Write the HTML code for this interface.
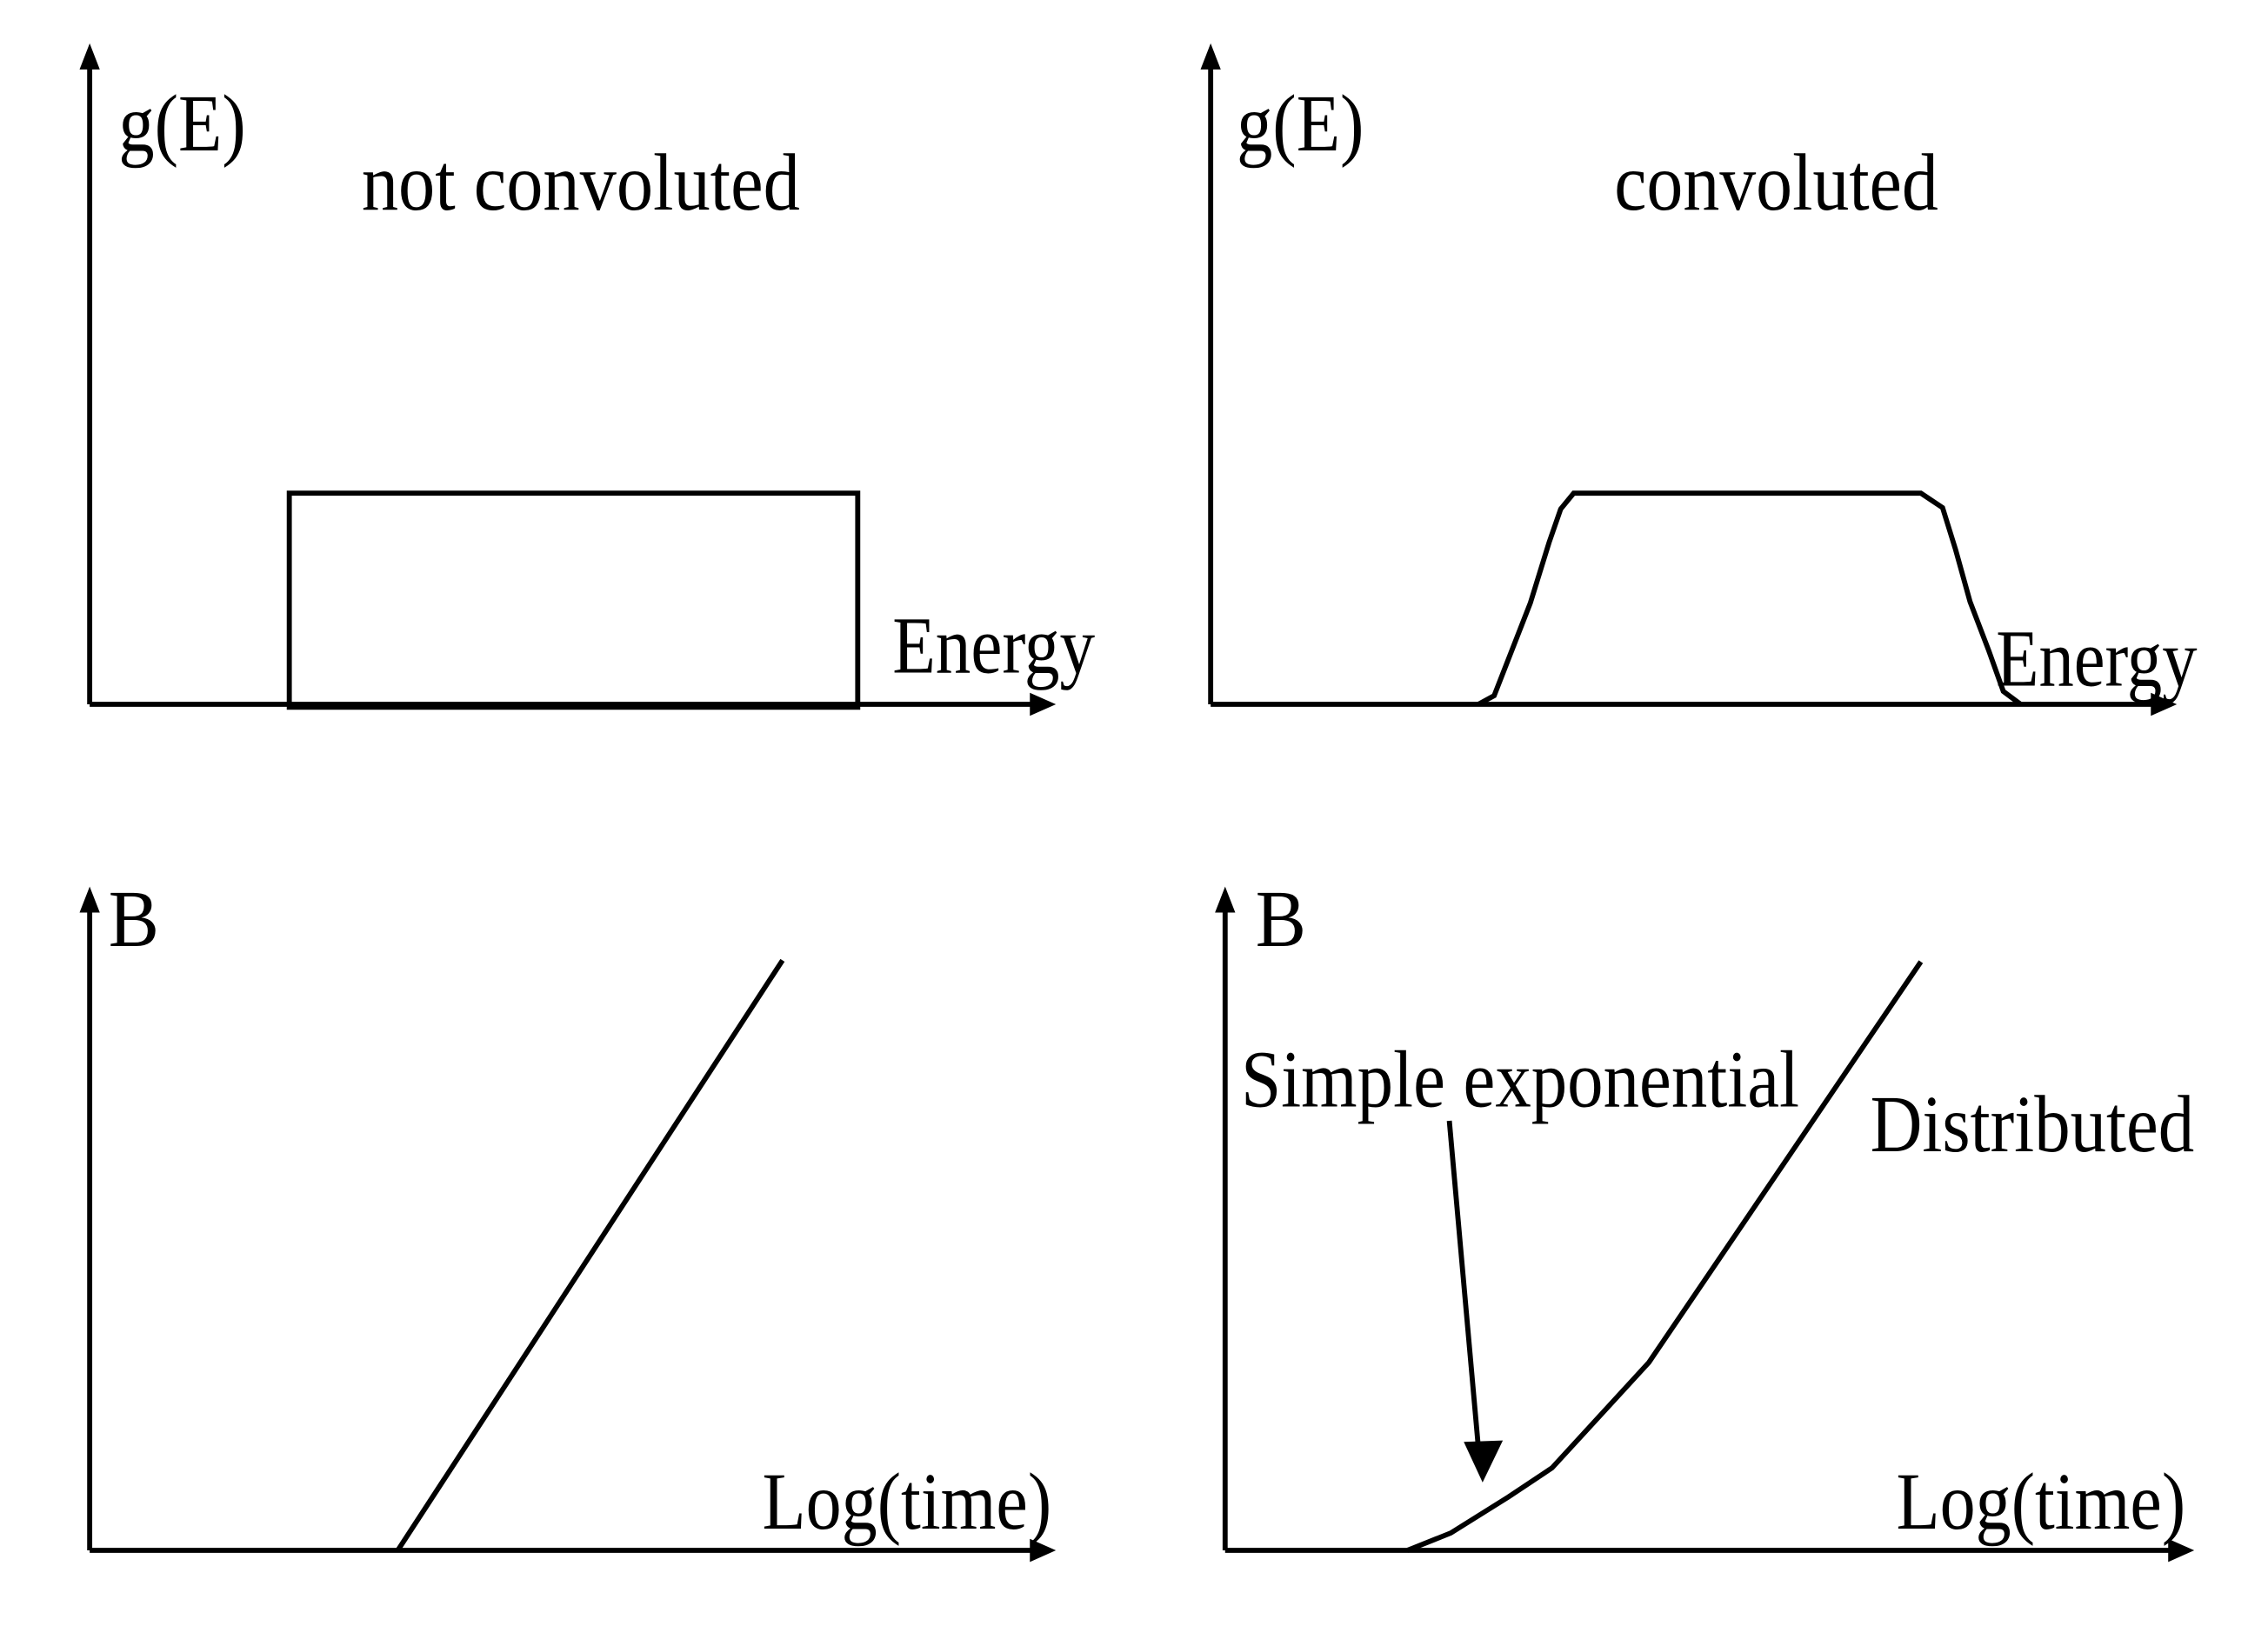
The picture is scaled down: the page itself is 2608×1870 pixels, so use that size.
<!DOCTYPE html>
<html><head><meta charset="utf-8"><style>html,body{margin:0;padding:0;background:#fff}svg{display:block}</style></head>
<body>
<svg width="2608" height="1870" viewBox="0 0 1568 1124.3" xmlns="http://www.w3.org/2000/svg" font-family="Liberation Serif, serif" font-size="56" fill="#000">
<g stroke="#000" stroke-width="3.5" fill="none">
<line x1="62" y1="45" x2="62" y2="487"/><line x1="62" y1="487" x2="714" y2="487"/>
<rect x="200" y="341" width="393" height="148"/>
<line x1="837" y1="45" x2="837" y2="487"/><line x1="837" y1="487" x2="1489" y2="487"/>
<polyline points="1022,487 1033,481 1058,417 1071,375 1079,352 1088,341 1328,341 1343,351 1352,380 1362,416 1375,450 1385,478 1397,487"/>
<line x1="62" y1="628" x2="62" y2="1072"/><line x1="62" y1="1072" x2="714" y2="1072"/>
<line x1="275" y1="1072" x2="541" y2="664"/>
<line x1="847" y1="628" x2="847" y2="1072"/><line x1="847" y1="1072" x2="1501" y2="1072"/>
<polyline points="973,1072 1003,1060 1043,1035 1073,1015 1140,942 1328,665"/>
<line x1="1002" y1="775" x2="1022" y2="1000"/>
</g>
<g stroke="none">
<polygon points="62,30 55,48 69,48"/><polygon points="730,487 712,479 712,495"/>
<polygon points="837,30 830,48 844,48"/><polygon points="1505,487 1487,479 1487,495"/>
<polygon points="62,613 55,631 69,631"/><polygon points="730,1072 712,1064 712,1080"/>
<polygon points="847,613 840,631 854,631"/><polygon points="1517,1072 1499,1064 1499,1080"/>
<polygon points="1025,1025 1012,997 1039,996"/>
</g>
<text x="82" y="104" textLength="88" lengthAdjust="spacingAndGlyphs">g(E)</text>
<text x="250" y="145" textLength="303" lengthAdjust="spacingAndGlyphs">not convoluted</text>
<text x="617" y="465" textLength="140" lengthAdjust="spacingAndGlyphs">Energy</text>
<text x="855" y="104" textLength="88" lengthAdjust="spacingAndGlyphs">g(E)</text>
<text x="1116" y="145" textLength="224" lengthAdjust="spacingAndGlyphs">convoluted</text>
<text x="1380" y="474" textLength="139" lengthAdjust="spacingAndGlyphs">Energy</text>
<text x="75" y="654" textLength="35" lengthAdjust="spacingAndGlyphs">B</text>
<text x="527" y="1057" textLength="200" lengthAdjust="spacingAndGlyphs">Log(time)</text>
<text x="868" y="654" textLength="35" lengthAdjust="spacingAndGlyphs">B</text>
<text x="858" y="765" textLength="386" lengthAdjust="spacingAndGlyphs">Simple exponential</text>
<text x="1293" y="796" textLength="224" lengthAdjust="spacingAndGlyphs">Distributed</text>
<text x="1311" y="1057" textLength="200" lengthAdjust="spacingAndGlyphs">Log(time)</text>
</svg>
</body></html>
